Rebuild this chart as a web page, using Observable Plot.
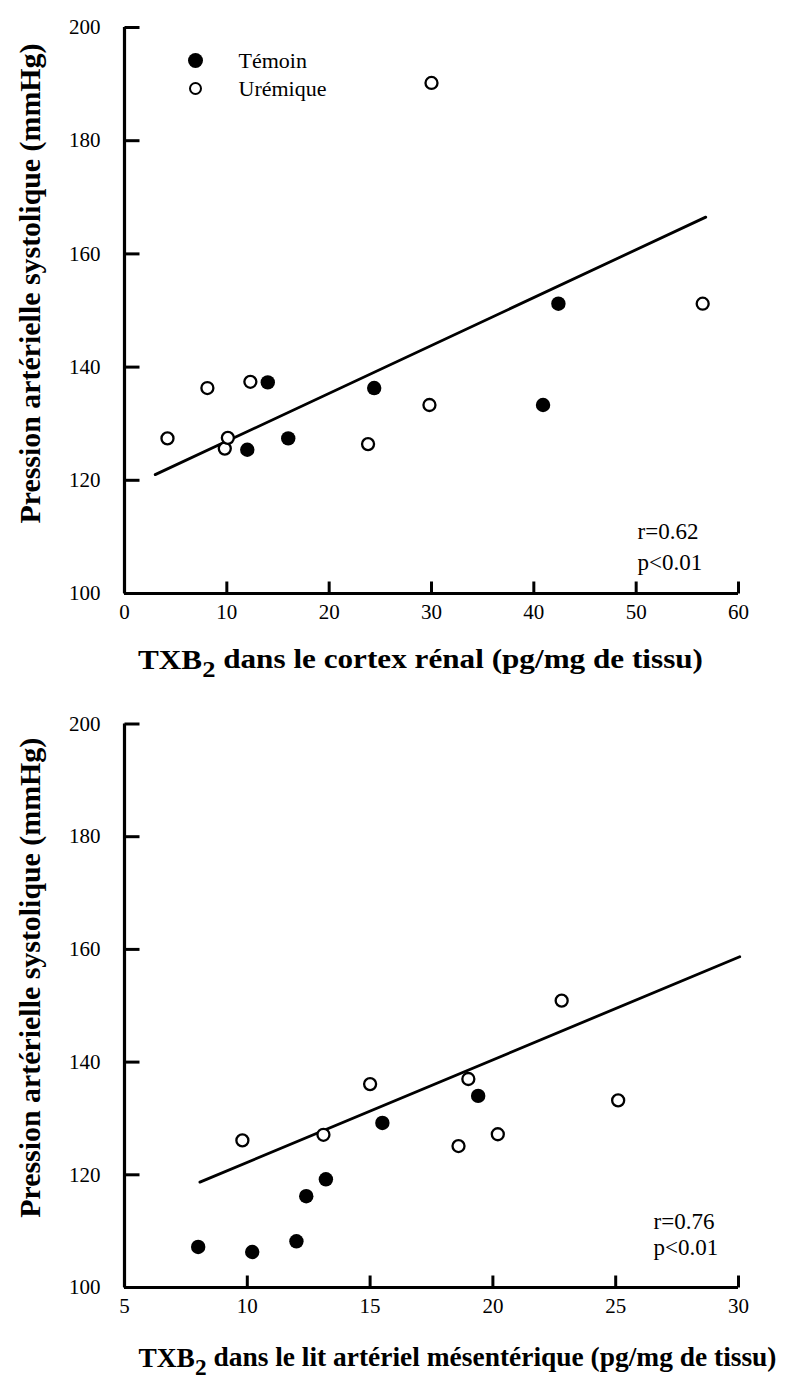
<!DOCTYPE html>
<html>
<head>
<meta charset="utf-8">
<script src="https://cdn.jsdelivr.net/npm/d3@7"></script>
<script src="https://cdn.jsdelivr.net/npm/@observablehq/plot@0.6"></script>
<style>
  html, body { margin: 0; padding: 0; background: #fff; }
  #charts svg { display: block; }
</style>
</head>
<body>
<div id="charts"></div>
<script>
// ---------- data ----------
const yTicks = [100, 120, 140, 160, 180, 200];
const topXTicks = [0, 10, 20, 30, 40, 50, 60];
const botXTicks = [5, 10, 15, 20, 25, 30];

const legendLabels = ["Témoin", "Urémique"];

// top panel: cortex rénal
const topTemoinX = [12.0, 14.0, 16.0, 24.4, 40.9, 42.4];
const topTemoinY = [125.4, 137.3, 127.4, 136.3, 133.3, 151.2];
const topUremX = [4.2, 8.1, 9.8, 10.1, 12.3, 23.8, 29.8, 30.0, 56.5];
const topUremY = [127.4, 136.3, 125.6, 127.5, 137.4, 126.4, 133.3, 190.2, 151.2];
const topFitX = [3.0, 56.8];
const topFitY = [121.0, 166.5];
const topStats = ["r=0.62", "p<0.01"];
const topXTitle = "TXB2 dans le cortex rénal (pg/mg de tissu)";

// bottom panel: lit artériel mésentérique
const botTemoinX = [8.0, 10.2, 12.0, 12.4, 13.2, 15.5, 19.4];
const botTemoinY = [107.2, 106.3, 108.2, 116.2, 119.2, 129.2, 134.0];
const botUremX = [9.8, 13.1, 15.0, 18.6, 19.0, 20.2, 22.8, 25.1];
const botUremY = [126.1, 127.1, 136.1, 125.1, 137.0, 127.2, 150.9, 133.2];
const botFitX = [8.07, 30.05];
const botFitY = [118.7, 158.7];
const botStats = ["r=0.76", "p<0.01"];
const botXTitle = "TXB2 dans le lit artériel mésentérique (pg/mg de tissu)";

const yTitle = "Pression artérielle systolique (mmHg)";

// ---------- drawing ----------
const W = 788, mL = 124, mR = 50;
const FONT = "'Liberation Serif', 'Times New Roman', serif";

function zip(xs, ys) { return xs.map((x, i) => ({x, y: ys[i]})); }

function findText(svg, str) {
  return d3.select(svg).selectAll("text").filter(function () { return this.textContent === str; });
}

function panel(p) {
  const frameW = W - mL - mR;
  const frameH = p.height - p.marginTop - p.marginBottom;
  const [x0, x1] = p.xDomain;
  const y0 = yTicks[0], y1 = yTicks[yTicks.length - 1];
  // inward tick lengths (pixels) expressed through the scales
  const yTickLen = 15 * (x1 - x0) / frameW;
  const xTickLen = 12 * (y1 - y0) / frameH;
  const yTickRows = yTicks.map(v => ({xa: x0, xb: x0 + yTickLen, y: v}));
  const xTickRows = p.xTicks.map(v => ({x: v, ya: y0, yb: y0 + xTickLen}));
  const marks = [
    // axis lines
    Plot.ruleX([x0], {x: d => d, y1: y0, y2: y1, stroke: "#000", strokeWidth: 3.2}),
    Plot.ruleY([y0], {y: d => d, x1: x0, x2: x1, stroke: "#000", strokeWidth: 3.2}),
    // inward ticks
    Plot.link(yTickRows, {x1: "xa", x2: "xb", y1: "y", y2: "y", stroke: "#000", strokeWidth: 3}),
    Plot.link(xTickRows, {x1: "x", x2: "x", y1: "ya", y2: "yb", stroke: "#000", strokeWidth: 3}),
    // tick labels
    Plot.axisY(yTicks, {tickSize: 0, tickPadding: 24, fontSize: 21, label: null}),
    Plot.axisX(p.xTicks, {tickSize: 0, tickPadding: 11, fontSize: 21, label: null}),
    // fit + points
    Plot.line(zip(p.fitX, p.fitY), {x: "x", y: "y", stroke: "#000", strokeWidth: 2.8}),
    Plot.dot(zip(p.uremX, p.uremY), {x: "x", y: "y", r: 6, fill: "white", stroke: "#000", strokeWidth: 2.3}),
    Plot.dot(zip(p.temX, p.temY), {x: "x", y: "y", r: 7.2, fill: "#000", stroke: "none"}),
    // stats
    Plot.text([p.stats[0]], {text: d => d, frameAnchor: "bottom-right", dx: p.statsDx, dy: p.statsDy[0],
      textAnchor: "start", lineAnchor: "middle", fontSize: 23, fill: "black"}),
    Plot.text([p.stats[1]], {text: d => d, frameAnchor: "bottom-right", dx: p.statsDx, dy: p.statsDy[1],
      textAnchor: "start", lineAnchor: "middle", fontSize: 23, fill: "black"}),
    // titles
    Plot.text([p.xTitle], {text: d => d, frameAnchor: "bottom", dx: p.xTitleDx, dy: p.xTitleDy,
      textAnchor: "middle", lineAnchor: "middle", fontSize: 28, fontWeight: "bold", fill: "black"}),
    Plot.text([yTitle], {text: d => d, frameAnchor: "left", dx: -94, dy: p.yTitleDy, rotate: -90,
      textAnchor: "middle", lineAnchor: "middle", fontSize: 30, fontWeight: "bold", fill: "black"})
  ];
  if (p.legend) {
    marks.push(
      Plot.dot([legendLabels[0]], {frameAnchor: "top-left", dx: 71, dy: 33, r: 7.5, fill: "black"}),
      Plot.dot([legendLabels[1]], {frameAnchor: "top-left", dx: 71, dy: 61, r: 5.5, fill: "white", stroke: "black", strokeWidth: 2}),
      Plot.text([legendLabels[0]], {text: d => d, frameAnchor: "top-left", dx: 114, dy: 33, textAnchor: "start", lineAnchor: "middle", fontSize: 22}),
      Plot.text([legendLabels[1]], {text: d => d, frameAnchor: "top-left", dx: 114, dy: 61, textAnchor: "start", lineAnchor: "middle", fontSize: 22})
    );
  }
  const svg = Plot.plot({
    width: W,
    height: p.height,
    marginLeft: mL,
    marginRight: mR,
    marginTop: p.marginTop,
    marginBottom: p.marginBottom,
    style: {fontFamily: FONT, fontSize: "21px", color: "black", background: "white"},
    x: {domain: p.xDomain, label: null},
    y: {domain: [y0, y1], label: null},
    marks
  });
  // condensed bold titles with subscript
  const xt = findText(svg, p.xTitle);
  if (!xt.empty()) {
    const s = p.xTitle;
    xt.text(null);
    xt.append("tspan").text(s.slice(0, 3));
    xt.append("tspan").attr("dy", "0.3em").attr("font-size", "0.85em").text(s.slice(3, 4));
    xt.append("tspan").attr("dy", "-0.3em").text(s.slice(4));
    xt.attr("textLength", p.xTitleLen).attr("lengthAdjust", "spacingAndGlyphs");
  }
  const yt = findText(svg, yTitle);
  if (!yt.empty()) yt.attr("textLength", 480).attr("lengthAdjust", "spacingAndGlyphs");
  return svg;
}

const root = document.getElementById("charts");
root.appendChild(panel({
  height: 692, marginTop: 27, marginBottom: 99,
  xDomain: [0, 60], xTicks: topXTicks,
  temX: topTemoinX, temY: topTemoinY, uremX: topUremX, uremY: topUremY,
  fitX: topFitX, fitY: topFitY,
  stats: topStats, statsDx: -101, statsDy: [-62, -31],
  xTitle: topXTitle, xTitleDx: -11, xTitleDy: 67, xTitleLen: 565,
  yTitleDy: -27, legend: true
}));
root.appendChild(panel({
  height: 692, marginTop: 31.5, marginBottom: 97,
  xDomain: [5, 30], xTicks: botXTicks,
  temX: botTemoinX, temY: botTemoinY, uremX: botUremX, uremY: botUremY,
  fitX: botFitX, fitY: botFitY,
  stats: botStats, statsDx: -85, statsDy: [-66, -40],
  xTitle: botXTitle, xTitleDx: 26, xTitleDy: 71, xTitleLen: 638,
  yTitleDy: -28, legend: false
}));
</script>
</body>
</html>
